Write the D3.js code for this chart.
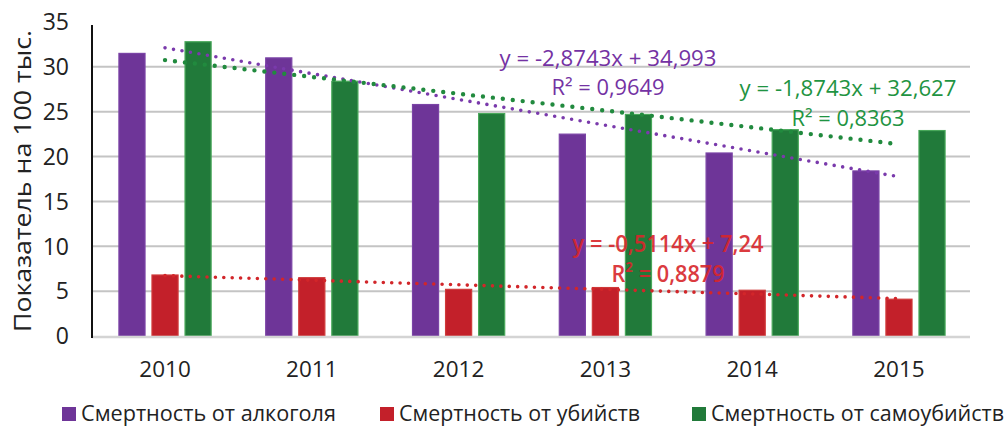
<!DOCTYPE html>
<html>
<head>
<meta charset="utf-8">
<script src="https://cdn.jsdelivr.net/npm/d3@7"></script>
<style>
  body { margin: 0; background: #fff; }
  svg { font-family: "Open Sans", sans-serif; }
</style>
</head>
<body>
<div id="chart"></div>
<script>
// data
var years = ['2010', '2011', '2012', '2013', '2014', '2015'];
var seriesNames = ['Смертность от алкоголя', 'Смертность от убийств', 'Смертность от самоубийств'];
var alcohol = [31.5, 31.0, 25.8, 22.5, 20.4, 18.4];
var murder = [6.8, 6.5, 5.2, 5.4, 5.1, 4.1];
var suicide = [32.8, 28.4, 24.8, 24.7, 23.0, 22.9];
var yTicks = [0, 5, 10, 15, 20, 25, 30, 35];
// trend lines as printed on the chart (y = a*x + b, x = 1..6)
var trendSlope = [-2.8743, -0.5114, -1.8743];
var trendIntercept = [34.993, 7.24, 32.627];
var trendLabels = [
    ['y = -2,8743x + 34,993', 'R² = 0,9649'],
    ['y = -0,5114x + 7,24', 'R² = 0,8879'],
    ['y = -1,8743x + 32,627', 'R² = 0,8363']
];

var width = 1006, height = 426;
var barColors = ['#6e3598', '#c3202a', '#217a3a'];
var barStroke = ['#7b44a6', '#cf3a3a', '#49a85a'];
var textColors = ['#7432a3', '#d8262b', '#1f9442'];
var trendColors = ['#7a3aac', '#d2262a', '#218a3e'];

var svg = d3.select('#chart')
    .append('svg')
    .attr('width', width)
    .attr('height', height);

var x0 = d3.scaleBand()
    .domain(years)
    .range([92, 972])
    .paddingInner(0.365)
    .paddingOuter(0.18);

var x1 = d3.scaleBand()
    .domain([0, 1, 2])
    .range([0, x0.bandwidth()])
    .paddingInner(0.18);

var y = d3.scaleLinear()
    .domain([0, 35])
    .range([336, 22]);

// gridlines
svg.append('g')
    .selectAll('line')
    .data(yTicks.filter(function (d) { return d > 0 && d < 35; }))
    .enter().append('line')
    .attr('x1', 92).attr('x2', 970)
    .attr('y1', function (d) { return y(d); })
    .attr('y2', function (d) { return y(d); })
    .attr('stroke', '#c4c4c4')
    .attr('stroke-width', 2);

// y tick labels
svg.append('g')
    .selectAll('text')
    .data(yTicks)
    .enter().append('text')
    .attr('x', 69)
    .attr('y', function (d) { return y(d); })
    .attr('dy', '0.36em')
    .attr('text-anchor', 'end')
    .attr('font-size', 23)
    .attr('fill', '#222')
    .text(function (d) { return d; });

// bars
var all = [alcohol, murder, suicide];
var groups = svg.append('g')
    .selectAll('g')
    .data(years)
    .enter().append('g')
    .attr('transform', function (d) { return 'translate(' + x0(d) + ',0)'; });

groups.selectAll('rect')
    .data(function (d, i) { return all.map(function (s, k) { return { k: k, v: s[i] }; }); })
    .enter().append('rect')
    .attr('x', function (d) { return x1(d.k) + 0.5; })
    .attr('width', x1.bandwidth() - 1)
    .attr('y', function (d) { return y(d.v); })
    .attr('height', function (d) { return y(0) - y(d.v); })
    .attr('fill', function (d) { return barColors[d.k]; })
    .attr('stroke', function (d) { return barStroke[d.k]; })
    .attr('stroke-width', 1.2);

// axes lines
svg.append('line')
    .attr('x1', 92).attr('x2', 970)
    .attr('y1', y(0) + 1).attr('y2', y(0) + 1)
    .attr('stroke', '#d4d4d4').attr('stroke-width', 2.5);
svg.append('line')
    .attr('x1', 92).attr('x2', 92)
    .attr('y1', 25).attr('y2', y(0) + 2)
    .attr('stroke', '#111').attr('stroke-width', 2);

// x labels
svg.append('g')
    .selectAll('text')
    .data(years)
    .enter().append('text')
    .attr('x', function (d) { return x0(d) + x0.bandwidth() / 2; })
    .attr('y', 377)
    .attr('text-anchor', 'middle')
    .attr('font-size', 22.5)
    .attr('fill', '#222')
    .text(function (d) { return d; });

// trend lines
var xc = function (i) { return x0(years[i]) + x0.bandwidth() / 2; };
var dots = [{ w: 3.6, gap: 8.6 }, { w: 3.6, gap: 8.4 }, { w: 4.4, gap: 10 }];
[0, 2, 1].forEach(function (k) {
    var line = d3.line()
        .x(function (d) { return xc(d); })
        .y(function (d) { return y(trendSlope[k] * (d + 1) + trendIntercept[k]); });
    svg.append('path')
        .attr('d', line([0, years.length - 1]))
        .attr('fill', 'none')
        .attr('stroke', trendColors[k])
        .attr('stroke-width', dots[k].w)
        .attr('stroke-linecap', 'round')
        .attr('stroke-dasharray', '0,' + dots[k].gap);
});

// trend labels
var labelPos = [[608, 66, 95], [668, 252, 282], [848, 96, 126]];
var labelW = [[217, 113], [191, 113], [217, 113]];
trendLabels.forEach(function (lab, k) {
    var g = svg.append('g')
        .attr('fill', textColors[k])
        .attr('font-size', k === 1 ? 23 : 22)
        .attr('font-weight', k === 1 ? 600 : 400)
        .attr('text-anchor', 'middle')
        .attr('opacity', k === 1 ? 0.9 : 1);
    g.append('text').attr('x', labelPos[k][0]).attr('y', labelPos[k][1])
        .attr('textLength', labelW[k][0]).attr('lengthAdjust', 'spacingAndGlyphs')
        .text(lab[0]);
    g.append('text').attr('x', labelPos[k][0]).attr('y', labelPos[k][2])
        .attr('textLength', labelW[k][1]).attr('lengthAdjust', 'spacingAndGlyphs')
        .text(lab[1]);
});

// y axis title
svg.append('text')
    .attr('transform', 'translate(31,181) rotate(-90)')
    .attr('text-anchor', 'middle')
    .attr('font-size', 24)
    .attr('fill', '#222')
    .attr('textLength', 302)
    .attr('lengthAdjust', 'spacingAndGlyphs')
    .text('Показатель на 100 тыс.');

// legend
var legendX = [62, 380, 692];
var legendW = [255, 241, 293];
var leg = svg.append('g')
    .selectAll('g')
    .data(seriesNames)
    .enter().append('g')
    .attr('transform', function (d, i) { return 'translate(' + legendX[i] + ',0)'; });
leg.append('rect')
    .attr('x', 0).attr('y', 407)
    .attr('width', 14).attr('height', 14)
    .attr('fill', function (d, i) { return barColors[i]; });
leg.append('text')
    .attr('x', 19).attr('y', 421)
    .attr('font-size', 21)
    .attr('fill', '#222')
    .attr('textLength', function (d, i) { return legendW[i]; })
    .attr('lengthAdjust', 'spacingAndGlyphs')
    .text(function (d) { return d; });
</script>
</body>
</html>
